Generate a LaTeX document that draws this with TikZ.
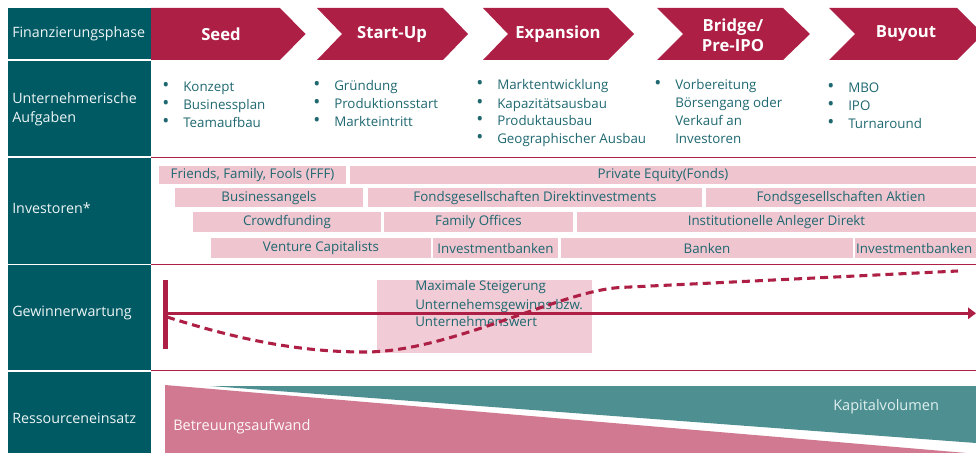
\documentclass[tikz,border=0pt]{standalone}
\usepackage{fontspec}
\setmainfont{Open Sans}
\usetikzlibrary{arrows.meta}
\definecolor{tealblk}{HTML}{005A64}
\definecolor{redc}{HTML}{AD1F45}
\definecolor{tealtext}{HTML}{1F6870}
\definecolor{lbltext}{HTML}{EEF5F5}
\definecolor{pinkbox}{HTML}{EFC5D0}
\definecolor{pinkarea}{HTML}{D07990}
\definecolor{tealarea}{HTML}{4E8F91}
\newcommand\bu{\makebox[15pt][l]{\hspace{-0.6pt}{\fontsize{14}{13.5}\selectfont\textbullet}}}
\newcommand\invbox[6]{%
  \fill[pinkbox] (#2,#4) rectangle (#3,#5);
  \node[invtext] (#1) at ({(#2+#3)/2},{(#4+#5)/2}) {#6};}
\tikzset{
  lbl/.style={anchor=west, text=lbltext, font=\fontsize{10.7}{14.25}\selectfont, inner sep=0, align=left},
  phase/.style={text=white, font=\bfseries\fontsize{12.5}{15}\selectfont, align=center, inner sep=0},
  bul/.style={anchor=base west, text=tealtext, font=\fontsize{10}{13.5}\selectfont, inner sep=0},
  invtext/.style={text=tealtext, font=\fontsize{10}{12}\selectfont, inner sep=0},
  areatext/.style={anchor=west, font=\fontsize{10.9}{12}\selectfont, inner sep=0},
  chev/.style={fill=redc},
  sep/.style={draw=redc, line width=1pt},
}
\begin{document}
\begin{tikzpicture}[x=0.75pt,y=-0.75pt]
\useasboundingbox (0,0) rectangle (976,453);
% left column
\fill[tealblk] (8,8) rectangle (151,59.5);
\fill[tealblk] (8,61) rectangle (151,156);
\fill[tealblk] (8,158.5) rectangle (151,263.5);
\fill[tealblk] (8,265) rectangle (151,369.5);
\fill[tealblk] (8,371.5) rectangle (151,453);
\node[lbl] (l1) at (12,34) {Finanzierungsphase};
\node[lbl] (l2) at (12,109.5) {Unternehmerische\\Aufgaben};
\node[lbl] (l3) at (12,208) {Investoren*};
\node[lbl] (l4) at (12,313) {Gewinnerwartung};
\node[lbl] (l5) at (12,418) {Ressourceneinsatz};
% separators
\draw[sep] (151,157.5) -- (976,157.5);
\draw[sep] (151,264.3) -- (976,264.3);
\draw[sep] (151,370.7) -- (976,370.7);
% chevrons
\fill[chev] (151,8) -- (280,8) -- (305.5,34) -- (280,60) -- (151,60) -- cycle;
\fill[chev] (317,8) -- (443,8) -- (468,34) -- (443,60) -- (317,60) -- (342,34) -- cycle;
\fill[chev] (483,8) -- (608,8) -- (634,34) -- (608,60) -- (483,60) -- (508,34) -- cycle;
\fill[chev] (657,8) -- (783,8) -- (810,34) -- (783,60) -- (657,60) -- (683,34) -- cycle;
\fill[chev] (829,8) -- (957,8) -- (983,34) -- (957,60) -- (829,60) -- (855,34) -- cycle;
\node[phase] (seed) at (221,34) {Seed};
\node[phase] (startup) at (392,34) {Start-Up};
\node[phase] (expansion) at (558,34) {Expansion};
\node[phase] (bridge) at (733,35) {Bridge/\\Pre-IPO};
\node[phase] (buyout) at (906,34) {Buyout};
% tasks
\node[bul] (tSeed) at (163,92) {\begin{tabular}[t]{@{}l@{}l@{}}\bu&Konzept\\\bu&Businessplan\\\bu&Teamaufbau\end{tabular}};
\node[bul] (tStart) at (314,90.5) {\begin{tabular}[t]{@{}l@{}l@{}}\bu&Gründung\\\bu&Produktionsstart\\\bu&Markteintritt\end{tabular}};
\node[bul] (tExp) at (477,90) {\begin{tabular}[t]{@{}l@{}l@{}}\bu&Marktentwicklung\\\bu&Kapazitätsausbau\\\bu&Produktausbau\\\bu&Geographischer Ausbau\end{tabular}};
\node[bul] (tBridge) at (655,89.5) {\begin{tabular}[t]{@{}l@{}l@{}}\bu&Vorbereitung\\&Börsengang oder\\&Verkauf an\\&Investoren\end{tabular}};
\node[bul] (tBuy) at (828,92.5) {\begin{tabular}[t]{@{}l@{}l@{}}\bu&MBO\\\bu&IPO\\\bu&Turnaround\end{tabular}};
% investors
\invbox{fff}{159}{346}{166}{184.5}{Friends, Family, Fools (FFF)}
\invbox{pe}{350}{976}{166}{184.5}{Private Equity(Fonds)}
\invbox{ba}{175}{363}{188}{207.5}{Businessangels}
\invbox{fgd}{368}{702}{188}{207.5}{Fondsgesellschaften Direktinvestments}
\invbox{fga}{706}{976}{188}{207.5}{Fondsgesellschaften Aktien}
\invbox{cf}{193}{381}{212}{232}{Crowdfunding}
\invbox{fo}{384}{573}{212}{232}{Family Offices}
\invbox{iad}{577}{976}{212}{232}{Institutionelle Anleger Direkt}
\invbox{vc}{211}{431}{238}{258}{Venture Capitalists}
\invbox{ib1}{433}{558}{238}{258}{Investmentbanken}
\invbox{bk}{561}{853}{238}{258}{Banken}
\invbox{ib2}{855}{976}{238}{258}{\makebox[0pt][l]{\hspace{-4pt}Investmentbanken}\phantom{Investmentbanke}}
% Gewinnerwartung
\fill[pinkbox!90!white] (377,280) rectangle (592,352.5);
\node[bul] (maxtext) at (415,291) {\begin{tabular}[t]{@{}l@{}}Maximale Steigerung\\Unternehemsgewinns bzw.\\Unternehmenswert\end{tabular}};
\coordinate (bartop) at (165.3,280);
\coordinate (barbot) at (165.3,349);
\coordinate (axstart) at (165.3,313.3);
\coordinate (axend) at (976,313.3);
\draw[redc, line width=3.4pt] (bartop) -- (barbot);
\draw[redc, line width=2.4pt, -{Triangle[length=6pt,width=8.5pt]}] (axstart) -- (axend);
\coordinate (cstart) at (167,317);
\coordinate (cmin) at (365,352);
\coordinate (cmid) at (620,287.5);
\coordinate (cend) at (958,271);
\draw[redc, line width=2.3pt, dash pattern=on 6pt off 3.8pt]
  (cstart) .. controls (240,340) and (300,352) .. (cmin)
  .. controls (450,352) and (560,291) .. (cmid) -- (cend);
% Ressourceneinsatz
\fill[tealarea] (210,386) -- (976,386) -- (976,443) -- cycle;
\fill[pinkarea] (165,385) -- (976,453.8) -- (976,453) -- (165,453) -- cycle;
\node[areatext, text=white!88!pink] (betr) at (173,427) {Betreuungsaufwand};
\node[areatext, text=white!88!teal] (kapv) at (833,406.7) {Kapitalvolumen};
\end{tikzpicture}
\end{document}
